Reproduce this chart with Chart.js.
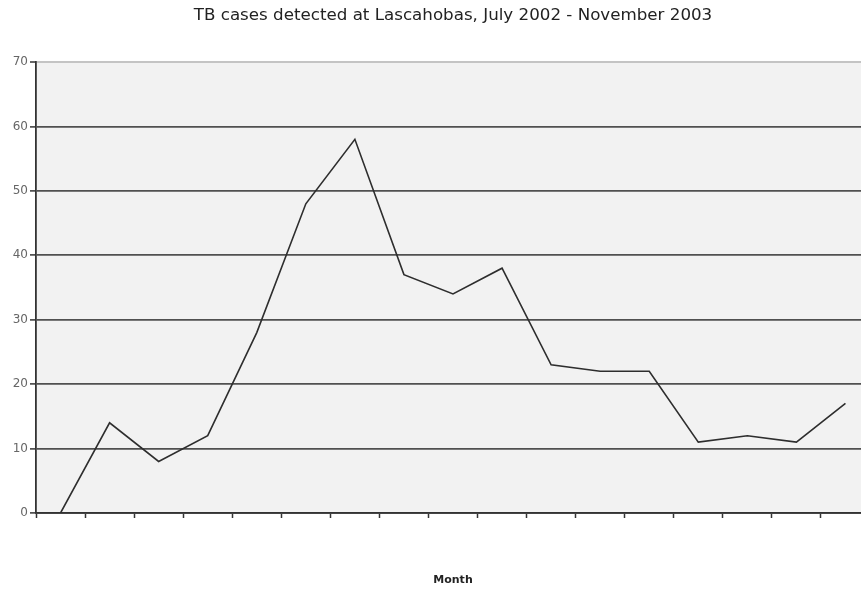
<!DOCTYPE html>
<html>
<head>
<meta charset="utf-8">
<title>TB cases detected at Lascahobas</title>
<script src="https://cdn.jsdelivr.net/npm/chart.js@4/dist/chart.umd.min.js"></script>
<style>
  html, body { margin: 0; padding: 0; background: #ffffff; overflow: hidden; }
  #wrap { position: relative; width: 870px; height: 590px; }
</style>
</head>
<body>
<div id="wrap"><canvas id="chart"></canvas></div>
<script>
// Monthly TB case counts, July 2002 through November 2003
const months = [
  'Jul 2002', 'Aug 2002', 'Sep 2002', 'Oct 2002', 'Nov 2002', 'Dec 2002',
  'Jan 2003', 'Feb 2003', 'Mar 2003', 'Apr 2003', 'May 2003', 'Jun 2003',
  'Jul 2003', 'Aug 2003', 'Sep 2003', 'Oct 2003', 'Nov 2003'
];
const cases = [0, 14, 8, 12, 28, 48, 58, 37, 34, 38, 23, 22, 22, 11, 12, 11, 17];
const yTicks = [0, 10, 20, 30, 40, 50, 60, 70];

const titleText = 'TB cases detected at Lascahobas, July 2002 - November 2003';
const xTitle = 'Month';

// light grey fill behind the plotting area
const plotBackground = {
  id: 'plotBackground',
  beforeDraw(chart) {
    const { ctx, chartArea } = chart;
    ctx.save();
    ctx.fillStyle = '#f2f2f2';
    ctx.fillRect(chartArea.left, chartArea.top,
      chartArea.right - chartArea.left, chartArea.bottom - chartArea.top);
    ctx.restore();
  }
};

new Chart(document.getElementById('chart'), {
  type: 'line',
  data: {
    labels: months,
    datasets: [{
      label: 'TB cases',
      data: cases,
      borderColor: '#2e2e2e',
      borderWidth: 1.6,
      pointRadius: 0,
      tension: 0,
      fill: false
    }]
  },
  options: {
    responsive: true,
    maintainAspectRatio: false,
    animation: false,
    layout: { padding: 0 },
    plugins: {
      legend: { display: false },
      tooltip: { enabled: false },
      title: {
        display: true,
        text: titleText,
        fullSize: false,
        color: '#222222',
        font: { family: 'DejaVu Sans', size: 16.7, weight: 'normal', lineHeight: 1.2 },
        padding: { top: 5.2, bottom: 36.8 }
      }
    },
    scales: {
      x: {
        type: 'category',
        offset: true,
        grid: {
          offset: true,
          drawOnChartArea: false,
          drawTicks: true,
          tickLength: 5,
          tickColor: '#333333',
          tickWidth: 1.5
        },
        border: { display: true, color: '#333333', width: 1.8 },
        ticks: { display: false },
        title: {
          display: true,
          text: xTitle,
          color: '#222222',
          font: { family: 'DejaVu Sans', size: 11, weight: 'bold', lineHeight: 1.2 },
          padding: { top: 55, bottom: 2.8 }
        },
        afterFit(scale) { scale.height = 77; }
      },
      y: {
        min: 0,
        max: 70,
        afterBuildTicks(scale) {
          scale.ticks = yTicks.map(v => ({ value: v }));
        },
        grid: {
          color: ctx => (ctx.tick && ctx.tick.value === 70) ? '#c4c4c4' : '#505050',
          lineWidth: ctx => (ctx.tick && ctx.tick.value === 70) ? 2 : 1.8,
          tickColor: '#333333',
          tickLength: 6,
          tickWidth: 1.5
        },
        border: { display: true, color: '#333333', width: 1.8 },
        ticks: {
          color: '#666666',
          padding: 2,
          font: { family: 'DejaVu Sans', size: 12 }
        },
        afterFit(scale) { scale.width = 36; }
      }
    }
  },
  plugins: [plotBackground]
});
</script>
</body>
</html>
